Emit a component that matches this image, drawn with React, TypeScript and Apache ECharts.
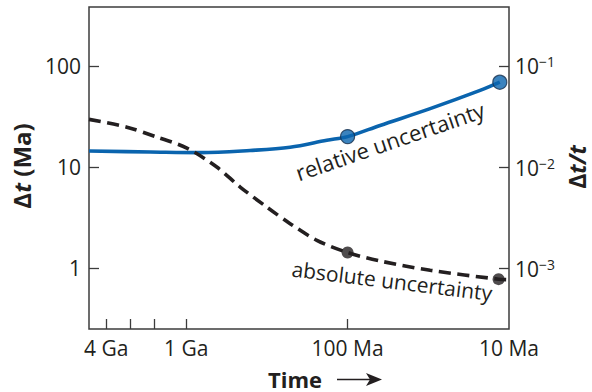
import React, { useEffect, useRef } from "react";
import * as echarts from "echarts";

// Relative uncertainty curve (age in Ma, Δt in Ma)
const relAgesMa = [4000, 1670, 818, 402, 227, 134.5, 100, 62.9, 30.8, 15.1, 11.4];
const relValuesMa = [14.4, 14.1, 13.9, 14.6, 15.7, 18.4, 20, 25.8, 37.8, 57.2, 69];
const relMarkerAges = [100, 11.4];
const relMarkerValues = [20, 69];

// Absolute uncertainty curve
const absAgesMa = [4000, 2330, 1520, 990, 646, 463, 317, 227, 155, 100, 63, 30.8, 11.6, 10];
const absValuesMa = [29.6, 24.8, 19.8, 15.4, 10, 6.35, 4.03, 2.76, 1.89, 1.43, 1.18, 0.955, 0.78, 0.77];
const absMarkerAges = [100, 11.6];
const absMarkerValues = [1.43, 0.78];

// Axes
const xMinAge = 10;
const xMaxAge = 4000;
const xTickAges = [3130, 2220, 1570, 1000, 100];
const xLabelAges = [3130, 1000, 100, 10];
const xLabelTexts = ["4 Ga", "1 Ga", "100 Ma", "10 Ma"];
const yMinMa = 0.251;
const yMaxMa = 382;
const yTickValues = [1, 10, 100];
const yLeftLabels = ["1", "10", "100"];
const yRightExponents = ["−3", "−2", "−1"];

const FONT = "'Open Sans', 'Noto Sans', sans-serif";
const INK = "#231f20";
const AXIS = "#3c3c3c";
const BLUE = "#0a64ae";

const lg = (v: number) => Math.log10(v);
const pairs = (xs: number[], ys: number[]) => xs.map((x, i) => [lg(x), lg(ys[i])]);
const findIdx = (arr: number[], v: number) => arr.findIndex((a) => Math.abs(lg(a) - v) < 1e-6);

export default function App() {
  const ref = useRef<HTMLDivElement>(null);
  useEffect(() => {
    if (!ref.current) return;
    document.body.style.margin = "0";
    const chart = echarts.init(ref.current, null, { renderer: "svg" });
    const yTicks = yTickValues.map(lg);
    const tickStyle = { color: AXIS, width: 1.3 };
    chart.setOption({
      animation: false,
      grid: {
        left: 89,
        right: 83,
        top: 7,
        bottom: 63,
        show: true,
        borderColor: AXIS,
        borderWidth: 1.5,
        backgroundColor: "transparent",
      },
      xAxis: {
        type: "value",
        inverse: true,
        min: lg(xMinAge),
        max: lg(xMaxAge),
        axisLine: { show: false, onZero: false },
        splitLine: { show: false },
        axisTick: {
          inside: true,
          length: 10,
          lineStyle: tickStyle,
          customValues: xTickAges.map(lg),
        },
        axisLabel: {
          customValues: xLabelAges.map(lg),
          showMinLabel: true,
          showMaxLabel: true,
          margin: 8,
          fontSize: 21,
          fontFamily: FONT,
          color: INK,
          formatter: (v: number) => {
            const i = findIdx(xLabelAges, v);
            return i >= 0 ? xLabelTexts[i] : "";
          },
        },
      },
      yAxis: [
        {
          type: "value",
          position: "left",
          min: lg(yMinMa),
          max: lg(yMaxMa),
          axisLine: { show: false, onZero: false },
          splitLine: { show: false },
          axisTick: {
            inside: true,
            length: 10,
            lineStyle: tickStyle,
            customValues: yTicks,
          },
          axisLabel: {
            customValues: yTicks,
            margin: 8,
            fontSize: 21,
            fontFamily: FONT,
            color: INK,
            formatter: (v: number) => {
              const i = findIdx(yTickValues, v);
              return i >= 0 ? yLeftLabels[i] : "";
            },
          },
        },
        {
          type: "value",
          position: "right",
          min: lg(yMinMa),
          max: lg(yMaxMa),
          axisLine: { show: false, onZero: false },
          splitLine: { show: false },
          axisTick: {
            inside: true,
            length: 10,
            lineStyle: tickStyle,
            customValues: yTicks,
          },
          axisLabel: {
            customValues: yTicks,
            margin: 6,
            fontFamily: FONT,
            color: INK,
            formatter: (v: number) => {
              const i = findIdx(yTickValues, v);
              return i >= 0 ? `{b|10}{s|${yRightExponents[i]}}` : "";
            },
            rich: {
              b: { fontSize: 21, fontFamily: FONT, color: INK, lineHeight: 22, verticalAlign: "bottom" },
              s: { fontSize: 14, fontFamily: FONT, color: INK, lineHeight: 22, verticalAlign: "top" },
            },
          },
        },
      ],
      series: [
        {
          type: "line",
          data: pairs(relAgesMa, relValuesMa),
          smooth: 0.35,
          showSymbol: false,
          lineStyle: { color: BLUE, width: 3.6 },
          z: 2,
        },
        {
          type: "line",
          data: pairs(absAgesMa, absValuesMa),
          smooth: 0.3,
          showSymbol: false,
          lineStyle: { color: INK, width: 3.6, type: [12, 6.5] },
          z: 3,
        },
        {
          type: "scatter",
          data: pairs(relMarkerAges, relMarkerValues),
          symbolSize: 14,
          itemStyle: { color: BLUE, borderColor: "#17304d", borderWidth: 1.2 },
          z: 5,
        },
        {
          type: "scatter",
          data: pairs(absMarkerAges, absMarkerValues),
          symbolSize: 12,
          itemStyle: { color: INK },
          z: 5,
        },
      ],
      graphic: [
        {
          type: "text",
          x: 296,
          y: 173,
          rotation: (19 * Math.PI) / 180,
          style: {
            text: "relative uncertainty",
            fontSize: 22,
            fontFamily: FONT,
            fill: INK,
            textAlign: "left",
            textVerticalAlign: "middle",
          },
        },
        {
          type: "text",
          x: 292,
          y: 268.5,
          rotation: (-7 * Math.PI) / 180,
          style: {
            text: "absolute uncertainty",
            fontSize: 21,
            fontFamily: FONT,
            fill: INK,
            textAlign: "left",
            textVerticalAlign: "middle",
          },
        },
        {
          type: "text",
          x: 21,
          y: 166,
          rotation: Math.PI / 2,
          style: {
            text: "{d|Δ}{t|t}{m| (Ma)}",
            textAlign: "center",
            textVerticalAlign: "middle",
            rich: {
              d: { fontSize: 24, lineHeight: 26, fontWeight: "bold", fontFamily: FONT, fill: INK },
              t: { fontSize: 24, lineHeight: 26, fontWeight: "bold", fontStyle: "italic", fontFamily: FONT, fill: INK },
              m: { fontSize: 24, lineHeight: 26, fontWeight: "bold", fontFamily: FONT, fill: INK },
            },
          },
        },
        {
          type: "text",
          x: 576.5,
          y: 167,
          rotation: Math.PI / 2,
          style: {
            text: "{d|Δ}{t|t/t}",
            textAlign: "center",
            textVerticalAlign: "middle",
            rich: {
              d: { fontSize: 23, lineHeight: 22, fontWeight: "bold", fontFamily: FONT, fill: INK },
              t: { fontSize: 23, lineHeight: 22, fontWeight: "bold", fontStyle: "italic", fontFamily: FONT, fill: INK },
            },
          },
        },
        {
          type: "text",
          x: 268,
          y: 378.5,
          style: {
            text: "Time",
            fontSize: 22,
            fontWeight: "bold",
            fontFamily: FONT,
            fill: INK,
            textAlign: "left",
            textVerticalAlign: "middle",
          },
        },
        {
          type: "line",
          shape: { x1: 337, y1: 379.5, x2: 372, y2: 379.5 },
          style: { stroke: INK, lineWidth: 1.5 },
        },
        {
          type: "polygon",
          shape: { points: [[366, 373], [382, 379.5], [366, 386], [370, 379.5]] },
          style: { fill: INK },
        },
      ],
    });
    return () => chart.dispose();
  }, []);
  return <div ref={ref} style={{ width: 592, height: 392, position: "absolute", left: 0, top: 0 }} />;
}
